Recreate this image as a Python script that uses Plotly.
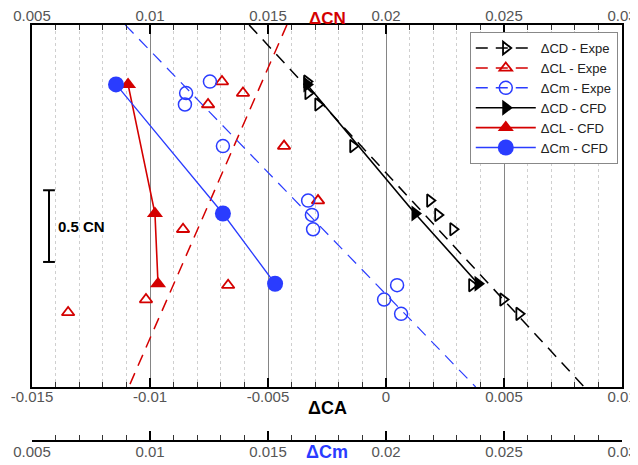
import plotly.graph_objects as go

# ---------------- data ----------------
# vertical position (in CN units, see the 0.5 CN scale bar)
Y_EXPE = [2.13, 2.05, 1.97, 1.68, 1.30, 1.20, 1.10, 0.71, 0.61, 0.51]
CD_EXPE = [-0.00335, -0.0033, -0.00288, -0.0014, 0.00186, 0.0022, 0.00284, 0.00364, 0.00496, 0.00564]
Y_CL_EXPE = [2.13, 2.05, 1.97, 1.68, 1.30, 1.10, 0.71, 0.61, 0.52]
CL_EXPE = [0.01305, 0.01394, 0.01246, 0.01568, 0.01712, 0.0114, 0.01331, 0.00983, 0.00653]
CM_EXPE = [0.01254, 0.01153, 0.01148, 0.01309, 0.0167, 0.01686, 0.01691, 0.02047, 0.01992, 0.02064]

Y_CFD = [2.11, 1.21, 0.72]
CD_CFD = [-0.00335, 0.00123, 0.0039]
CL_CFD = [0.00907, 0.01021, 0.01034]
CM_CFD = [0.00856, 0.01309, 0.0153]

# trend lines of the experimental points
FIT_Y = [2.525, 0.0]
CD_FIT = [-0.0058, 0.0084]
CL_FIT = [0.0158, 0.0091]
CM_FIT = [0.00895, 0.0238]

CA_TICKS = [-0.015, -0.01, -0.005, 0, 0.005, 0.01]
CA_LABELS = ["-0.015", "-0.01", "-0.005", "0", "0.005", "0.01"]
CN_TICKS = [0.005, 0.01, 0.015, 0.02, 0.025, 0.03]
CN_LABELS = ["0.005", "0.01", "0.015", "0.02", "0.025", "0.03"]

# ---------------- style ----------------
BLACK = "#000000"
RED = "#d40000"
BLUE = "#2a3cff"
FONT = "Liberation Sans, Arial, sans-serif"
DASH = "12px,8px"

fig = go.Figure()

# dashed trend lines
fig.add_trace(go.Scatter(x=CD_FIT, y=FIT_Y, mode="lines", xaxis="x", yaxis="y",
                         line=dict(color=BLACK, width=1.5, dash=DASH), showlegend=False))
fig.add_trace(go.Scatter(x=CL_FIT, y=FIT_Y, mode="lines", xaxis="x2", yaxis="y",
                         line=dict(color=RED, width=1.5, dash=DASH), showlegend=False))
fig.add_trace(go.Scatter(x=CM_FIT, y=FIT_Y, mode="lines", xaxis="x3", yaxis="y",
                         line=dict(color=BLUE, width=1.2, dash=DASH), showlegend=False))

# experimental points
fig.add_trace(go.Scatter(x=CD_EXPE, y=Y_EXPE, mode="markers", xaxis="x", yaxis="y",
                         marker=dict(symbol="triangle-right-open", size=11, color=BLACK,
                                     line=dict(width=1.8)), showlegend=False))
fig.add_trace(go.Scatter(x=CL_EXPE, y=Y_CL_EXPE, mode="markers", xaxis="x2", yaxis="y",
                         marker=dict(symbol="triangle-up-open", size=11, color=RED,
                                     line=dict(width=1.8)), showlegend=False))
fig.add_trace(go.Scatter(x=CM_EXPE, y=Y_EXPE, mode="markers", xaxis="x3", yaxis="y",
                         marker=dict(symbol="circle-open", size=13, color=BLUE,
                                     line=dict(width=1.5)), showlegend=False))

# legend entries for experimental series (dashed line + marker)
fig.add_trace(go.Scatter(x=[None], y=[None], mode="lines+markers", name="\u0394CD - Expe",
                         xaxis="x", yaxis="y",
                         line=dict(color=BLACK, width=1.5, dash=DASH),
                         marker=dict(symbol="triangle-right-open", size=11, color=BLACK,
                                     line=dict(width=1.8))))
fig.add_trace(go.Scatter(x=[None], y=[None], mode="lines+markers", name="\u0394CL - Expe",
                         xaxis="x", yaxis="y",
                         line=dict(color=RED, width=1.5, dash=DASH),
                         marker=dict(symbol="triangle-up-open", size=11, color=RED,
                                     line=dict(width=1.8))))
fig.add_trace(go.Scatter(x=[None], y=[None], mode="lines+markers", name="\u0394Cm - Expe",
                         xaxis="x", yaxis="y",
                         line=dict(color=BLUE, width=1.5, dash=DASH),
                         marker=dict(symbol="circle-open", size=13, color=BLUE,
                                     line=dict(width=1.5))))

# CFD series
fig.add_trace(go.Scatter(x=CD_CFD, y=Y_CFD, mode="lines+markers", name="\u0394CD - CFD",
                         xaxis="x", yaxis="y",
                         line=dict(color=BLACK, width=1.6),
                         marker=dict(symbol="triangle-right", size=14, color=BLACK)))
fig.add_trace(go.Scatter(x=CL_CFD, y=Y_CFD, mode="lines+markers", name="\u0394CL - CFD",
                         xaxis="x2", yaxis="y",
                         line=dict(color=RED, width=1.6),
                         marker=dict(symbol="triangle-up", size=14, color=RED)))
fig.add_trace(go.Scatter(x=CM_CFD, y=Y_CFD, mode="lines+markers", name="\u0394Cm - CFD",
                         xaxis="x3", yaxis="y",
                         line=dict(color=BLUE, width=1.3),
                         marker=dict(symbol="circle", size=16, color=BLUE)))

tickfont = dict(family=FONT, size=15, color="#555555")
minor_common = dict(tickmode="linear", dtick=0.001, ticks="inside", ticklen=5,
                    tickwidth=1, tickcolor="#333333")

# the page adds an 8px body margin, so the figure is 8px smaller than the window
fig.update_layout(
    width=630, height=457,
    margin=dict(l=24, r=16, t=17, b=24, autoexpand=False),
    paper_bgcolor="white", plot_bgcolor="white",
    font=dict(family=FONT, color="#222222"),
    xaxis=dict(range=[-0.015, 0.01], domain=[0, 1], anchor="y", automargin=False,
               tickmode="array", tickvals=CA_TICKS, ticktext=CA_LABELS,
               ticks="inside", ticklen=9, tickwidth=2, tickcolor=BLACK,
               tickfont=tickfont, ticklabelstandoff=-5,
               showline=True, linecolor=BLACK, linewidth=2,
               showgrid=True, gridcolor="#858585", gridwidth=1, zeroline=False,
               minor=dict(minor_common, tick0=-0.015, showgrid=True,
                          gridcolor="#cfcfcf", griddash="dot", gridwidth=1)),
    xaxis2=dict(range=[0.005, 0.03], overlaying="x", side="top", anchor="y", automargin=False,
                tickmode="array", tickvals=CN_TICKS, ticktext=CN_LABELS,
                ticks="inside", ticklen=9, tickwidth=2, tickcolor=BLACK,
                tickfont=tickfont, ticklabelstandoff=-4,
                showline=True, linecolor=BLACK, linewidth=2,
                showgrid=False, zeroline=False,
                minor=dict(minor_common, tick0=0.005, showgrid=False)),
    xaxis3=dict(range=[0.005, 0.03], overlaying="x", side="bottom", anchor="free",
                position=0, automargin=False,
                tickmode="array", tickvals=CN_TICKS, ticktext=CN_LABELS,
                ticks="inside", ticklen=9, tickwidth=2, tickcolor=BLACK,
                tickfont=tickfont, ticklabelstandoff=-3,
                showline=True, linecolor=BLACK, linewidth=2,
                showgrid=False, zeroline=False,
                minor=dict(minor_common, tick0=0.005, showgrid=False)),
    yaxis=dict(range=[0, 2.5244], domain=[0.1298, 1], showticklabels=False, automargin=False,
               ticks="", showgrid=False, zeroline=False, showline=True,
               linecolor=BLACK, linewidth=2, mirror=True),
    legend=dict(x=0.742, y=0.983, xanchor="left", yanchor="top",
                bgcolor="white", bordercolor="#888888", borderwidth=1,
                font=dict(family=FONT, size=13, color="#222222"),
                itemwidth=60, tracegroupgap=0),
    showlegend=True,
)

# axis titles
fig.add_annotation(text="<b>\u0394CN</b>", xref="paper", yref="paper", x=0.5, y=1.0156,
                   showarrow=False, font=dict(family=FONT, size=17, color=RED),
                   xanchor="center", yanchor="middle", borderpad=0)
fig.add_annotation(text="<b>\u0394CA</b>", xref="paper", yref="paper", x=0.5, y=0.079,
                   showarrow=False, font=dict(family=FONT, size=18, color=BLACK),
                   xanchor="center", yanchor="middle")
fig.add_annotation(text="<b>\u0394Cm</b>", xref="paper", yref="paper", x=0.5, y=-0.026,
                   showarrow=False, font=dict(family=FONT, size=18, color=BLUE),
                   xanchor="center", yanchor="middle")

# 0.5 CN scale bar
SB_X, SB_Y0, SB_LEN, SB_CAP = -0.01428, 0.872, 0.5, 0.00025
fig.add_shape(type="line", xref="x", yref="y", x0=SB_X, x1=SB_X, y0=SB_Y0, y1=SB_Y0 + SB_LEN,
              line=dict(color=BLACK, width=2))
for yy in (SB_Y0, SB_Y0 + SB_LEN):
    fig.add_shape(type="line", xref="x", yref="y", x0=SB_X - SB_CAP, x1=SB_X + SB_CAP,
                  y0=yy, y1=yy, line=dict(color=BLACK, width=2))
fig.add_annotation(text="<b>0.5 CN</b>", xref="x", yref="y", x=-0.01398, y=SB_Y0 + SB_LEN / 2,
                   showarrow=False, xanchor="left", yanchor="middle",
                   font=dict(family=FONT, size=15, color=BLACK))

fig.write_html("out.html")
